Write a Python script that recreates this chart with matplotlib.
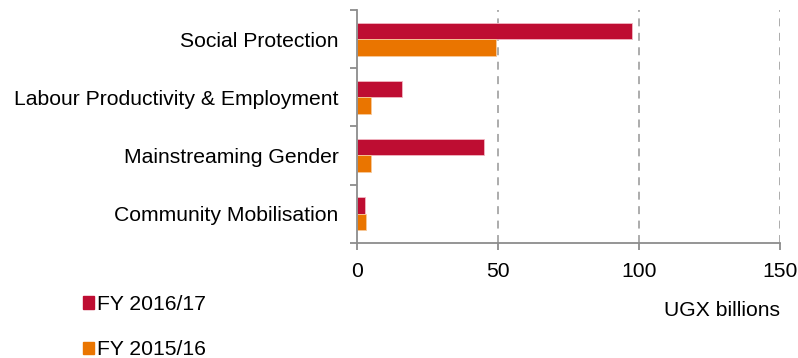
import numpy as np
import matplotlib.pyplot as plt
from matplotlib.patches import Patch

plt.rcParams['font.family'] = ['Liberation Sans', 'DejaVu Sans']

## spending by sub-programme, UGX billions (top to bottom)
categories = ['Social Protection', 'Labour Productivity & Employment',
              'Mainstreaming Gender', 'Community Mobilisation']
fy_2016_17 = [97.5, 15.9, 44.8, 2.8]
fy_2015_16 = [49.1, 4.7, 5.0, 3.0]
x_ticks = [0, 50, 100, 150]

red = '#BE0D32'
orange = '#EA7500'
grey = '#8c8c8c'
fs = 15.2

fig = plt.figure(figsize=(7.98, 3.58), dpi=100)
ax = fig.add_axes([0.4478, 0.322, 0.5296, 0.650])

n = len(categories)
y = np.arange(n)[::-1].astype(float)
h = 0.285
ax.barh(y + h / 2, fy_2016_17, height=h, color=red, edgecolor='#f2b7c2', linewidth=0.6)
ax.barh(y - h / 2, fy_2015_16, height=h, color=orange, edgecolor='#f7c99a', linewidth=0.6)

ax.set_xlim(0, 150)
ax.set_ylim(-0.5, n - 0.5)
ax.set_xticks(x_ticks)
ax.set_xticklabels([str(t) for t in x_ticks], fontsize=fs)
ax.set_yticks(y)
ax.set_yticklabels(categories, fontsize=fs)
ax.set_yticks(np.arange(n + 1) - 0.5, minor=True)

ax.tick_params(axis='y', which='major', length=0, pad=13.5)
ax.tick_params(axis='y', which='minor', length=5, width=1.3, color=grey, direction='out')
ax.tick_params(axis='x', length=5, width=1.3, color=grey, pad=9)

# dashed vertical gridlines at the non-zero ticks
for t in x_ticks[1:]:
    ax.axvline(t, color='#a6a6a6', linestyle=(0, (4.4, 3.6)), linewidth=1.3, zorder=0)

for side in ['top', 'right']:
    ax.spines[side].set_visible(False)
for side in ['left', 'bottom']:
    ax.spines[side].set_color(grey)
    ax.spines[side].set_linewidth(1.3)

fig.text(780 / 798, 1 - 310 / 358, 'UGX billions', fontsize=fs, ha='right', va='center')

handles = [Patch(color=red, label='FY 2016/17'), Patch(color=orange, label='FY 2015/16')]
fig.legend(handles=handles, loc='upper left', bbox_to_anchor=(82.7 / 798, 1 - 295 / 358),
           frameon=False, fontsize=fs, handlelength=0.53, handleheight=0.53,
           handletextpad=0.15, labelspacing=1.25, borderpad=0, borderaxespad=0)

fig.savefig('out.png', dpi=100)
